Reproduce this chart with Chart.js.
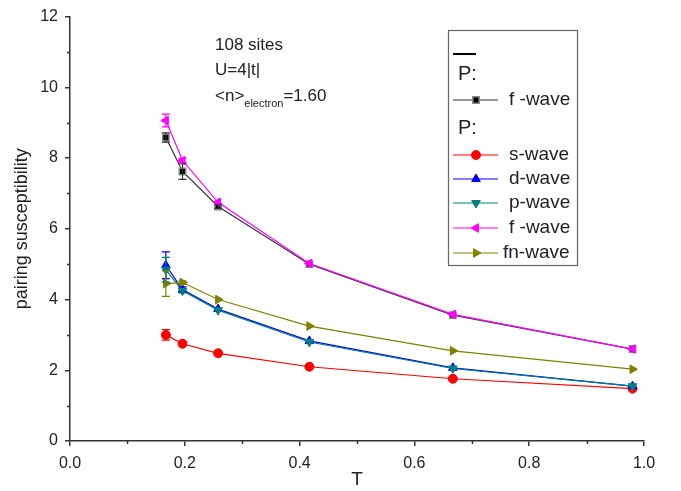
<!DOCTYPE html>
<html>
<head>
<meta charset="utf-8">
<script src="https://cdn.jsdelivr.net/npm/chart.js@4"></script>
<style>
  html, body { margin: 0; padding: 0; background: #fff; }
  #wrap { width: 681px; height: 491px; }
</style>
</head>
<body>
<div id="wrap"><canvas id="chart" width="681" height="491"></canvas></div>
<script>
// temperatures
const T = [0.167, 0.196, 0.258, 0.417, 0.667, 0.98];

// pairing susceptibilities per symmetry
const fBarWave = [8.58, 7.62, 6.63, 5.0, 3.56, 2.6];
const sWave = [3.0, 2.75, 2.48, 2.1, 1.76, 1.48];
const dWave = [4.97, 4.28, 3.73, 2.83, 2.07, 1.55];
const pWave = [4.84, 4.25, 3.7, 2.8, 2.05, 1.55];
const fWave = [9.06, 7.93, 6.75, 5.02, 3.58, 2.6];
const fnWave = [4.45, 4.48, 4.0, 3.25, 2.55, 2.03];

// error bars (half widths)
const fBarErr = [0.13, 0.22, 0.05, 0, 0, 0];
const sErr = [0.15, 0, 0, 0, 0, 0];
const dErr = [0.38, 0.08, 0, 0, 0, 0];
const pErr = [0.35, 0.06, 0, 0, 0, 0];
const fErr = [0.18, 0.06, 0, 0, 0, 0];
const fnErr = [0.36, 0.05, 0, 0, 0, 0];

const xTicks = [0, 0.2, 0.4, 0.6, 0.8, 1.0];
const yTicks = [0, 2, 4, 6, 8, 10, 12];

const FONT = '"Liberation Sans", Arial, Helvetica, sans-serif';
const TXT = '#222';

function pts(ys) { return T.map((t, i) => ({ x: t, y: ys[i] })); }

function series(label, ys, errs, color, style, rot, extra) {
  return Object.assign({
    label,
    data: pts(ys),
    errs,
    showLine: true,
    borderColor: color,
    backgroundColor: color,
    pointBorderColor: color,
    borderWidth: 1.2,
    pointStyle: style,
    rotation: rot,
    pointRadius: 5,
    pointBorderWidth: 1,
    tension: 0
  }, extra || {});
}

const datasets = [
  series('f -wave', fBarWave, fBarErr, '#333', 'rect', 0,
    { backgroundColor: '#000', pointBorderColor: '#888', pointBorderWidth: 1.5, pointRadius: 4.5, order: 6 }),
  series('s-wave', sWave, sErr, '#ff0000', 'circle', 0, { pointRadius: 4.5, order: 5 }),
  series('d-wave', dWave, dErr, '#0000ff', 'triangle', 0, { order: 4 }),
  series('p-wave', pWave, pErr, '#008080', 'triangle', 180, { order: 3 }),
  series('f -wave', fWave, fErr, '#ff00ff', 'triangle', -90, { order: 1 }),
  series('fn-wave', fnWave, fnErr, '#808000', 'triangle', 90, { order: 2 })
];

// error bars drawn through the scales
const errorBars = {
  id: 'errorBars',
  afterDatasetsDraw(chart) {
    const { ctx, scales: { x, y } } = chart;
    ctx.save();
    chart.data.datasets.forEach(ds => {
      ds.data.forEach((p, i) => {
        const e = ds.errs[i];
        if (!e) return;
        const px = x.getPixelForValue(p.x);
        const top = y.getPixelForValue(p.y + e);
        const bot = y.getPixelForValue(p.y - e);
        ctx.strokeStyle = ds.borderColor;
        ctx.lineWidth = 1.2;
        ctx.beginPath();
        ctx.moveTo(px, top); ctx.lineTo(px, bot);
        ctx.moveTo(px - 4, top); ctx.lineTo(px + 4, top);
        ctx.moveTo(px - 4, bot); ctx.lineTo(px + 4, bot);
        ctx.stroke();
      });
    });
    ctx.restore();
  }
};

// minor ticks, annotation text and the framed legend
const extras = {
  id: 'extras',
  afterDraw(chart) {
    const { ctx, scales: { x, y }, chartArea: a } = chart;
    ctx.save();
    ctx.strokeStyle = '#333';
    ctx.lineWidth = 1.5;
    ctx.beginPath();
    for (let v = 0.1; v < 1; v += 0.2) {
      const px = Math.round(x.getPixelForValue(v)) + 0.5;
      ctx.moveTo(px, a.bottom); ctx.lineTo(px, a.bottom + 3);
    }
    for (let v = 1; v < 12; v += 2) {
      const py = Math.round(y.getPixelForValue(v)) + 0.5;
      ctx.moveTo(a.left, py); ctx.lineTo(a.left - 3, py);
    }
    ctx.stroke();

    // annotation
    ctx.fillStyle = TXT;
    ctx.textBaseline = 'middle';
    ctx.textAlign = 'left';
    ctx.font = '17px ' + FONT;
    ctx.fillText('108 sites', 215, 45);
    ctx.fillText('U=4|t|', 215, 70);
    ctx.fillText('<n>', 215, 96);
    let w = ctx.measureText('<n>').width;
    ctx.font = '11px ' + FONT;
    ctx.fillText('electron', 215 + w, 104);
    w += ctx.measureText('electron').width;
    ctx.font = '17px ' + FONT;
    ctx.fillText('=1.60', 215 + w, 96);

    // legend
    const bx = 448, by = 30, bw = 129, bh = 235;
    ctx.strokeStyle = '#666';
    ctx.lineWidth = 1.2;
    ctx.strokeRect(bx + 0.5, by + 0.5, bw, bh);
    ctx.strokeStyle = '#000';
    ctx.lineWidth = 2;
    ctx.beginPath(); ctx.moveTo(453, 54); ctx.lineTo(476, 54); ctx.stroke();
    ctx.font = '20px ' + FONT;
    ctx.fillStyle = TXT;
    ctx.fillText('P:', 458, 74);
    ctx.fillText('P:', 458, 128);
    const rows = [100, 155, 179, 203, 228, 253];
    datasets.forEach((ds, i) => {
      const ry = rows[i];
      ctx.strokeStyle = ds.borderColor;
      ctx.lineWidth = 1.2;
      ctx.beginPath(); ctx.moveTo(453, ry); ctx.lineTo(498, ry); ctx.stroke();
      ctx.fillStyle = ds.backgroundColor;
      ctx.strokeStyle = ds.pointBorderColor;
      ctx.lineWidth = ds.pointBorderWidth;
      Chart.helpers.drawPoint(ctx, {
        pointStyle: ds.pointStyle,
        rotation: ds.rotation,
        radius: ds.pointRadius,
        borderWidth: ds.pointBorderWidth
      }, 476, ry);
      ctx.font = '19px ' + FONT;
      ctx.fillStyle = TXT;
      ctx.fillText(ds.label, i === 5 ? 503 : 509, ry);
    });
    ctx.restore();
  }
};

new Chart(document.getElementById('chart').getContext('2d'), {
  type: 'scatter',
  data: { datasets },
  options: {
    responsive: false,
    animation: false,
    layout: { padding: { top: 16, right: 37, left: 0, bottom: 0 } },
    plugins: { legend: { display: false }, tooltip: { enabled: false } },
    scales: {
      x: {
        type: 'linear', min: 0, max: 1,
        afterBuildTicks: s => { s.ticks = xTicks.map(v => ({ value: v })); },
        afterFit: s => { s.height = 50; },
        border: { color: '#333', width: 1.5 },
        grid: { drawOnChartArea: false, drawTicks: true, tickLength: 5, color: '#333', lineWidth: 1.5 },
        ticks: { color: TXT, font: { family: FONT, size: 16 }, padding: 8, callback: v => v.toFixed(1), maxRotation: 0 },
        title: { display: true, text: 'T', color: TXT, font: { family: FONT, size: 19 }, padding: { top: 0, bottom: 0 } }
      },
      y: {
        type: 'linear', min: 0, max: 12,
        afterBuildTicks: s => { s.ticks = yTicks.map(v => ({ value: v })); },
        afterFit: s => { s.width = 70; },
        border: { color: '#333', width: 1.5 },
        grid: { drawOnChartArea: false, drawTicks: true, tickLength: 5, color: '#333', lineWidth: 1.5 },
        ticks: { color: TXT, font: { family: FONT, size: 16 }, padding: 7 },
        title: { display: true, text: 'pairing susceptibility', color: TXT, font: { family: FONT, size: 18 }, padding: { top: 11, bottom: 0 } }
      }
    }
  },
  plugins: [errorBars, extras]
});
</script>
</body>
</html>
